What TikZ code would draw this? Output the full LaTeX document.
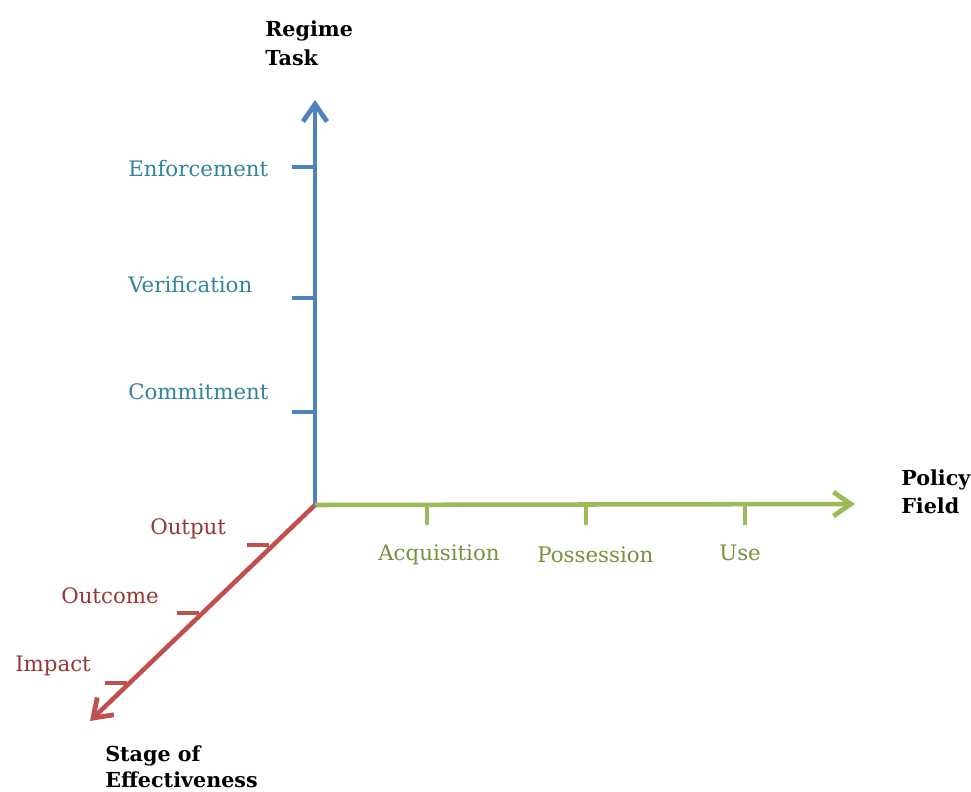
\documentclass[tikz,border=0pt]{standalone}
\usepackage{fontspec}
\setmainfont{DejaVu Serif}
\usetikzlibrary{arrows.meta}
\usetikzlibrary{positioning}
\definecolor{taskblue}{RGB}{79,129,189}
\definecolor{fieldgreen}{RGB}{155,187,89}
\definecolor{stagered}{RGB}{192,80,77}
\definecolor{tasktext}{RGB}{49,132,155}
\definecolor{fieldtext}{RGB}{118,146,60}
\definecolor{stagetext}{RGB}{149,55,52}
\tikzset{axisline/.style = {line width = 3.4pt, -{Straight Barb[length = 13pt, width = 18pt, line width = 3.6pt]}}}
\tikzset{tickmark/.style = {line width = 3.2pt}}
\tikzset{lbl/.style = {inner sep = 0, anchor = base west, font = \fontsize{16}{19}\selectfont}}
\tikzset{heading/.style = {inner sep = 0, anchor = base west, font = \bfseries\fontsize{15.5}{19}\selectfont}}

\begin{document}
\begin{tikzpicture}[x = 0.75pt, y = -0.75pt]
    \useasboundingbox (0, 0) rectangle (971, 792);

    \coordinate (O) at (315, 505);
    \coordinate (taskend) at (315, 100);
    \coordinate (fieldend) at (855, 504);
    \coordinate (stageend) at (90, 721);

    % regime task, upwards
    \foreach \ty/\name in {167/enf, 298/ver, 412/com} {
        \coordinate (\name) at (315, \ty);
        \draw [tickmark, taskblue] (\name) -- ++(-23, 0);
    }
    \draw [axisline, taskblue] (O) -- (taskend);
    \node [lbl, text = tasktext] (enftext) at (128, 176) {Enforcement};
    \node [lbl, text = tasktext] (vertext) at (128, 292) {Verification};
    \node [lbl, text = tasktext] (comtext) at (128, 399) {Commitment};
    \node [heading] (regime) at (265, 37) {Regime};
    \node [heading] (task) at (265, 65) {Task};

    % policy field, to the right
    \foreach \tx/\name in {427/acq, 586/pos, 745/use} {
        \coordinate (\name) at (\tx, 505);
        \draw [tickmark, fieldgreen] (\name) -- ++(0, 20);
    }
    \draw [axisline, fieldgreen] (O) -- (fieldend);
    \node [lbl, text = fieldtext] (acqtext) at (378, 560) {Acquisition};
    \node [lbl, text = fieldtext] (postext) at (537, 562) {Possession};
    \node [lbl, text = fieldtext] (usetext) at (719, 560) {Use};
    \node [heading] (policy) at (901, 485) {Policy};
    \node [heading] (field) at (901, 513) {Field};

    % stage of effectiveness, down to the left
    \foreach \sx/\sy/\name in {269/545/out, 199/613/otc, 127/683/imp} {
        \coordinate (\name) at (\sx, \sy);
        \draw [tickmark, stagered] (\name) -- ++(-22, 0);
    }
    \draw [axisline, stagered] (O) -- (stageend);
    \node [lbl, text = stagetext] (outtext) at (150, 534) {Output};
    \node [lbl, text = stagetext] (otctext) at (61, 603) {Outcome};
    \node [lbl, text = stagetext] (imptext) at (15, 671) {Impact};
    \node [heading] (stage) at (105, 761) {Stage of};
    \node [heading] (effect) at (105, 787) {Effectiveness};
\end{tikzpicture}
\end{document}
